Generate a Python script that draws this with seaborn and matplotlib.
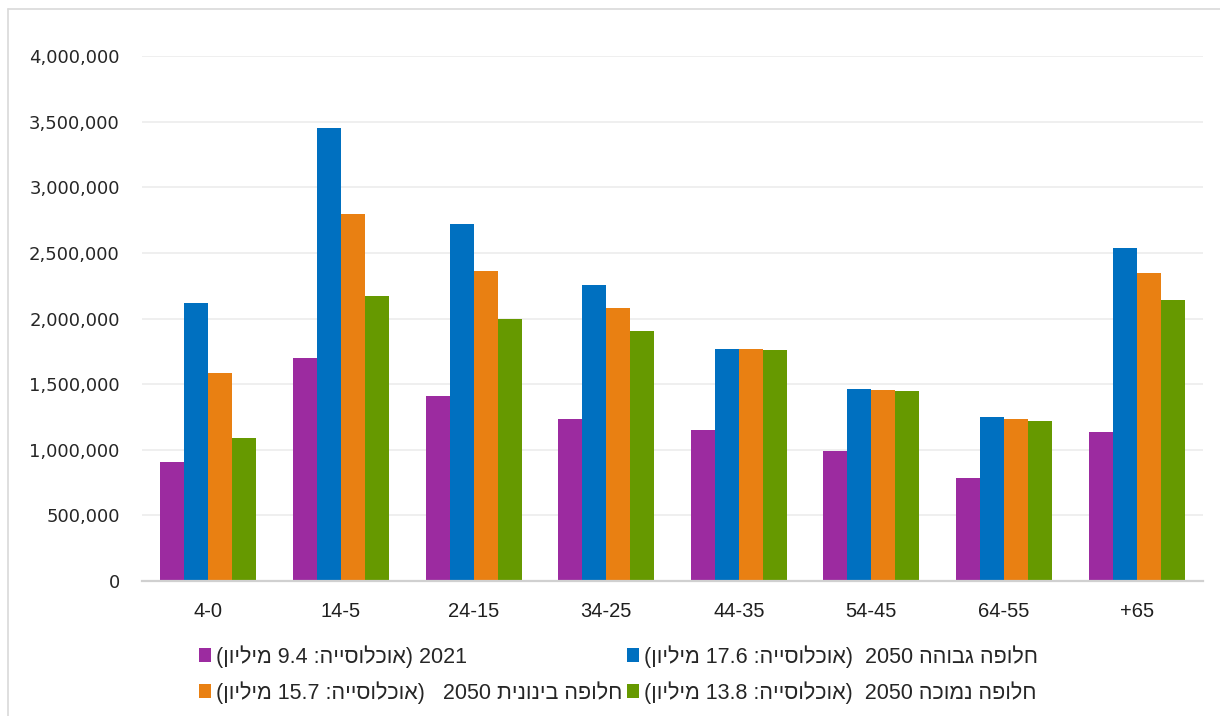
import re
import matplotlib
matplotlib.use("Agg")
import matplotlib.pyplot as plt
from matplotlib.lines import Line2D
from matplotlib.ticker import FuncFormatter
import pandas as pd
import seaborn as sns

# Age groups (as printed on the axis)
age_groups = ["4-0", "14-5", "24-15", "34-25", "44-35", "54-45", "64-55", "+65"]

# Series names (logical Hebrew order)
series_names = [
    "2021 (אוכלוסייה: 9.4 מיליון)",
    "חלופה גבוהה 2050  (אוכלוסייה: 17.6 מיליון)",
    "חלופה בינונית 2050   (אוכלוסייה: 15.7 מיליון)",
    "חלופה נמוכה 2050  (אוכלוסייה: 13.8 מיליון)",
]

# Population by age group
pop_2021 = [908000, 1702000, 1412000, 1234000, 1153000, 987000, 781000, 1137000]
pop_2050_high = [2120000, 3453000, 2718000, 2252000, 1768000, 1463000, 1249000, 2534000]
pop_2050_mid = [1583000, 2794000, 2364000, 2081000, 1768000, 1455000, 1234000, 2349000]
pop_2050_low = [1092000, 2168000, 1997000, 1908000, 1761000, 1448000, 1219000, 2140000]

colors = ["#9C2BA0", "#0070C0", "#E98012", "#669900"]


def visual_rtl(text):
    """Reorder a right-to-left string for left-to-right glyph drawing."""
    rev = text[::-1]
    rev = re.sub(r"[0-9][0-9.]*", lambda m: m.group(0)[::-1], rev)
    return rev.translate(str.maketrans("()", ")("))


rows = []
for name, values in zip(series_names,
                        [pop_2021, pop_2050_high, pop_2050_mid, pop_2050_low]):
    for age, v in zip(age_groups, values):
        rows.append({"age": age, "series": name, "value": v})
df = pd.DataFrame(rows)

sns.set_theme(style="white")
plt.rcParams["font.family"] = ["Liberation Sans", "DejaVu Sans"]

fig = plt.figure(figsize=(12.2, 7.16), dpi=100)
ax = fig.add_axes([142 / 1220, 1 - 581 / 716, (1203 - 142) / 1220, (581 - 56) / 716])

sns.barplot(data=df, x="age", y="value", hue="series", order=age_groups,
            hue_order=series_names, palette=colors, saturation=1,
            width=0.724, gap=0, linewidth=0, edgecolor="none",
            ax=ax, legend=True)

ax.set_xlim(-0.5, len(age_groups) - 0.5)
ax.set_ylim(0, 4000000)
ax.set_yticks(range(0, 4000001, 500000))
ax.yaxis.set_major_formatter(FuncFormatter(lambda v, p: f"{int(v):,}"))
ax.set_xlabel("")
ax.set_ylabel("")

ax.grid(axis="y", color="#EFEFEF", linewidth=1.4)
ax.grid(axis="x", visible=False)
ax.set_axisbelow(True)
for side in ["left", "right", "top"]:
    ax.spines[side].set_visible(False)
ax.spines["bottom"].set_color("#D0D0D0")
ax.spines["bottom"].set_linewidth(1.6)

ax.tick_params(axis="both", length=0)
ax.tick_params(axis="y", pad=16)
ax.tick_params(axis="x", pad=15)
for lbl in ax.get_yticklabels():
    lbl.set_fontfamily(["DejaVu Sans"])
    lbl.set_fontsize(13)
    lbl.set_color("#262626")
for lbl in ax.get_xticklabels():
    lbl.set_fontsize(14.5)
    lbl.set_color("#1F1F1F")

# Legend: two rows, filled row by row (columns fill first in matplotlib)
handles, labels = ax.get_legend_handles_labels()
ax.get_legend().remove()
order = [0, 2, 1, 3]
fig.legend([handles[i] for i in order], [visual_rtl(labels[i]) for i in order],
           ncol=2, loc="upper left", bbox_to_anchor=(199 / 1220, 1 - 645 / 716),
           frameon=False, fontsize=15.5, handlelength=0.58, handleheight=0.58,
           handletextpad=0.22, columnspacing=0.2, labelspacing=0.62,
           borderpad=0, borderaxespad=0, labelcolor="#262626")

# Chart area outline
fig.add_artist(Line2D([8 / 1220, 8 / 1220], [0, 1 - 9 / 716],
                      transform=fig.transFigure, color="#D9D9D9", linewidth=1.2))
fig.add_artist(Line2D([8 / 1220, 1], [1 - 9 / 716, 1 - 9 / 716],
                      transform=fig.transFigure, color="#D9D9D9", linewidth=1.2))

fig.savefig("out.png", dpi=100)
